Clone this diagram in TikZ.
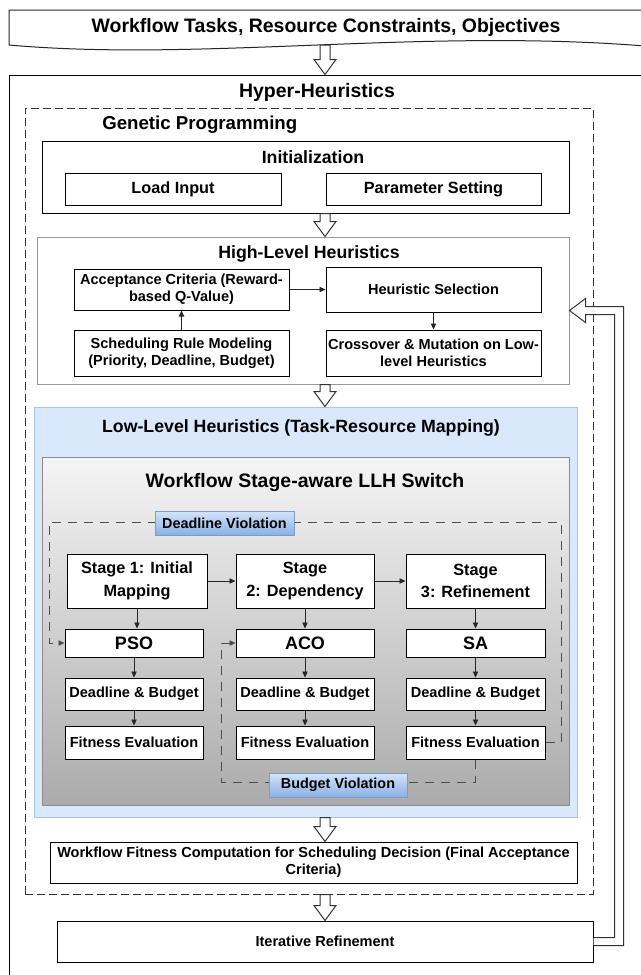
\documentclass[tikz,border=0pt]{standalone}
\usepackage{fontspec}
\setmainfont{Liberation Sans}
\usetikzlibrary{calc,arrows.meta}

\definecolor{llhfill}{HTML}{DAE8FC}
\definecolor{llhline}{HTML}{A9C4EB}
\definecolor{lblline}{HTML}{7A9CC6}
\definecolor{lbltop}{HTML}{D4E4F9}
\definecolor{lblbot}{HTML}{8AB0E6}
\definecolor{loopgray}{HTML}{4D4D4D}

\newcommand\fsz[2]{\fontsize{#1}{#2}\selectfont\bfseries}

% a node spanning the rectangle (x1,y1)-(x2,y2), in pixel units
% #1 style, #2 name, #3 x1, #4 y1, #5 x2, #6 y2, #7 text
\newcommand\boxxy[7]{%
  \pgfmathsetmacro\bw{(#5-#3)*0.75}%
  \pgfmathsetmacro\bh{(#6-#4)*0.75}%
  \node[#1, minimum width=\bw pt, minimum height=\bh pt] (#2) at ({(#3+#5)/2},{(#4+#6)/2}) {#7};}

% hollow block arrow pointing down, from the x of #1 at the y of #1 to the y of #2
\newcommand\hollowdown[2]{%
  \draw[hollow] let \p1=(#1), \p2=(#2) in
    (\x1-3.75pt,\y1) -- (\x1-3.75pt,\y2+11.25pt) -- (\x1-8.25pt,\y2+11.25pt)
    -- (\x1,\y2) -- (\x1+8.25pt,\y2+11.25pt) -- (\x1+3.75pt,\y2+11.25pt)
    -- (\x1+3.75pt,\y1) -- cycle;}

\tikzset{
  frame/.style={draw=black, line width=0.75pt, inner sep=0pt},
  procbox/.style={frame, fill=white, align=center, text=black, font=\fsz{10.9}{13}},
  midbox/.style={frame, fill=white, align=center, text=black, font=\fsz{12.2}{17}},
  algbox/.style={frame, fill=white, text=black, font=\fsz{13.5}{16}},
  heading/.style={font=\fsz{13.3}{16}, inner sep=0pt, text=black},
  bigheading/.style={font=\fsz{14.6}{17}, inner sep=0pt, text=black},
  flow/.style={draw=black!85, line width=0.6pt, -{Triangle[length=4.5pt,width=4pt]}},
  loopline/.style={draw=loopgray, line width=0.7pt, dash pattern=on 7pt off 5pt},
  violation/.style={draw=lblline, line width=0.6pt, top color=lbltop, bottom color=lblbot,
    inner sep=0pt, text=black, font=\fsz{10.8}{13}},
  hollow/.style={draw=black!80, fill=white, line width=0.75pt, line join=miter},
}

\begin{document}
\begin{tikzpicture}[x=0.75pt, y=-0.75pt]
\useasboundingbox (0,0) rectangle (641,975);
\clip (0,0) rectangle (641,975);
\fill[white] (0,0) rectangle (641,975);

% input document shape
\draw[line width=0.75pt, draw=black!85, fill=white]
  (9,10) -- (645,10) -- (645,46) .. controls (420,28) and (200,62) .. (9,45) -- cycle;
\node[bigheading] (inputs) at (326,27) {Workflow Tasks, Resource Constraints, Objectives};
\coordinate (inbase) at (325,45);
\coordinate (ax) at (325,0);

% hyper-heuristics frame
\boxxy{frame}{hyper}{9}{75}{650}{990}{}
\node[bigheading] (hhtitle) at (317,92) {Hyper-Heuristics};

% genetic programming region
\boxxy{frame, draw=black!80, dash pattern=on 6pt off 3pt}{gp}{25}{108}{593}{894}{}
\node[font=\fsz{14}{17}, anchor=west, inner sep=0pt, text=black] (gptitle) at (102,125) {Genetic Programming};

% initialization
\boxxy{frame}{init}{42}{141}{569}{213}{}
\node[heading] (inittitle) at (313,157) {Initialization};
\boxxy{midbox}{load}{65}{173}{281}{205}{Load Input}
\boxxy{midbox}{param}{326}{173}{541}{205}{Parameter Setting}

% high-level heuristics
\boxxy{frame, draw=black!40}{hlh}{37}{237}{569}{384}{}
\node[heading] (hlhtitle) at (309,254) {High-Level Heuristics};
\boxxy{procbox}{accept}{74}{269}{289}{310}{Acceptance Criteria (Reward-\\based Q-Value)}
\boxxy{procbox}{select}{326}{267}{541}{312}{Heuristic Selection}
\boxxy{procbox}{rules}{74}{330}{289}{376}{Scheduling Rule Modeling\\(Priority, Deadline, Budget)}
\boxxy{procbox}{cross}{326}{330}{541}{376}{Crossover \& Mutation on Low-\\level Heuristics}
\draw[flow] (accept.east) -- (accept.east -| select.west);
\draw[flow] (rules.north) -- (accept.south);
\draw[flow] (select.south) -- (cross.north);

% low-level heuristics
\boxxy{frame, draw=llhline, fill=llhfill}{llh}{34}{407}{577}{817}{}
\node[heading] (llhtitle) at (301,428) {Low-Level Heuristics (Task-Resource Mapping)};
\boxxy{frame, draw=black!45, top color=black!4, bottom color=black!33}{switch}{42}{457}{569}{805}{}
\node[bigheading] (swtitle) at (305,483) {Workflow Stage-aware LLH Switch};

% stages
\boxxy{midbox}{st1}{67}{554}{207}{608}{Stage 1: Initial\\Mapping}
\boxxy{midbox}{st2}{236}{554}{374}{608}{Stage\\2: Dependency}
\boxxy{midbox}{st3}{406}{554}{545}{608}{Stage\\3: Refinement}
\draw[flow] (st1.east) -- (st1.east -| st2.west);
\draw[flow] (st2.east) -- (st2.east -| st3.west);

% algorithms
\boxxy{algbox}{pso}{65}{629}{203}{657}{PSO}
\boxxy{algbox}{aco}{236}{629}{374}{657}{ACO}
\boxxy{algbox}{sa}{406}{629}{545}{657}{SA}
\boxxy{procbox}{db1}{65}{678}{203}{710}{Deadline \& Budget}
\boxxy{procbox}{db2}{236}{678}{374}{710}{Deadline \& Budget}
\boxxy{procbox}{db3}{406}{678}{545}{710}{Deadline \& Budget}
\boxxy{procbox}{fe1}{65}{726}{203}{759}{Fitness Evaluation}
\boxxy{procbox}{fe2}{236}{726}{374}{759}{Fitness Evaluation}
\boxxy{procbox}{fe3}{406}{726}{545}{759}{Fitness Evaluation}

\draw[flow] (st1.south) -- (st1.south |- pso.north);
\draw[flow] (st2.south) -- (st2.south |- aco.north);
\draw[flow] (st3.south) -- (st3.south |- sa.north);
\foreach \a/\b in {pso/db1, db1/fe1, aco/db2, db2/fe2, sa/db3, db3/fe3}
  \draw[flow] (\a.south) -- (\b.north);

% violation loops
\coordinate (dvr) at (561,522);
\coordinate (dvl) at (49,522);
\coordinate (bvl) at (221,782);
\draw[loopline, -{Triangle[length=4.5pt,width=4pt]}] (fe3.east) -| (dvr) -- (dvl) |- (pso.west);
\draw[loopline, -{Triangle[length=4.5pt,width=4pt]}] (fe3.south) |- (bvl) |- (aco.west);
\boxxy{violation}{dv}{155}{511}{294}{535}{Deadline Violation}
\boxxy{violation}{bv}{269}{773}{407}{797}{Budget Violation}

% final steps
\boxxy{procbox}{final}{50}{842}{577}{883}{Workflow Fitness Computation for Scheduling Decision (Final Acceptance\\Criteria)}
\boxxy{procbox}{iter}{57}{921}{593}{962}{Iterative Refinement}

% hollow flow arrows
\hollowdown{inbase}{hyper.north -| ax}
\hollowdown{init.south -| ax}{hlh.north -| ax}
\hollowdown{hlh.south -| ax}{llh.north -| ax}
\hollowdown{llh.south -| ax}{final.north -| ax}
\hollowdown{gp.south -| ax}{iter.north -| ax}

% feedback from iterative refinement to high-level heuristics
\draw[hollow] ($(iter.east)+(0,-4)$) -- ++(21,0) |- ($(hlh.east)+(16,4)$) -- ++(0,8)
  -- (hlh.east) -- ++(16,-12) -- ++(0,8) -| ($(iter.east)+(30,4)$) -- ($(iter.east)+(0,4)$);
\end{tikzpicture}
\end{document}
